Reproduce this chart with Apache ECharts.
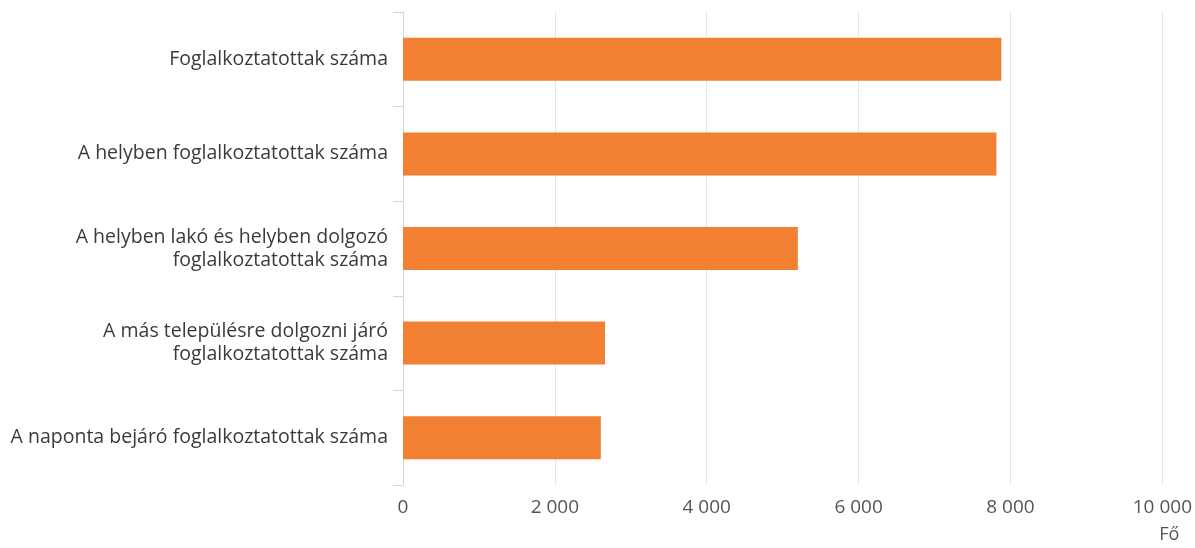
<!DOCTYPE html>
<html><head><meta charset="utf-8">
<script src="https://cdn.jsdelivr.net/npm/echarts@6/dist/echarts.min.js"></script>
<style>html,body{margin:0;padding:0;background:#fff}#c{width:1195px;height:548px}</style>
</head><body><div id="c"></div>
<script>
const categories = [
  "Foglalkoztatottak száma",
  "A helyben foglalkoztatottak száma",
  "A helyben lakó és helyben dolgozó\nfoglalkoztatottak száma",
  "A más településre dolgozni járó\nfoglalkoztatottak száma",
  "A naponta bejáró foglalkoztatottak száma"
];
const values = [7880, 7815, 5200, 2660, 2605];
const xMin = 0, xMax = 10000, xStep = 2000;
const unitName = "Fő";

const chart = echarts.init(document.getElementById('c'));
chart.setOption({
  animation: false,
  grid: {left: 403, right: 32, top: 12, bottom: 63, containLabel: false},
  xAxis: {
    type: 'value', min: xMin, max: xMax, interval: xStep,
    name: unitName, nameLocation: 'end', nameGap: 17,
    nameTextStyle: {align: 'right', verticalAlign: 'top', padding: [41, 0, 0, 0], color: '#555', fontSize: 18, fontFamily: 'Open Sans'},
    axisLine: {show: false}, axisTick: {show: false},
    splitLine: {lineStyle: {color: '#e6e6e6'}},
    axisLabel: {color: '#555', fontSize: 19, fontFamily: 'Open Sans', margin: 13,
      formatter: v => String(v).replace(/\B(?=(\d{3})+(?!\d))/g, ' ')}
  },
  yAxis: {
    type: 'category', data: categories, inverse: true,
    axisLine: {show: true, lineStyle: {color: '#ccd6eb'}},
    axisTick: {show: true, length: 10, lineStyle: {color: '#ccd6eb'}},
    axisLabel: {color: '#3a3a3a', fontSize: 19.5, fontFamily: 'Open Sans', margin: 15, lineHeight: 23, align: 'right'},
    splitLine: {show: false}
  },
  series: [{
    type: 'bar', data: values, barWidth: 43,
    itemStyle: {color: '#f28033'}
  }]
});
</script></body></html>
